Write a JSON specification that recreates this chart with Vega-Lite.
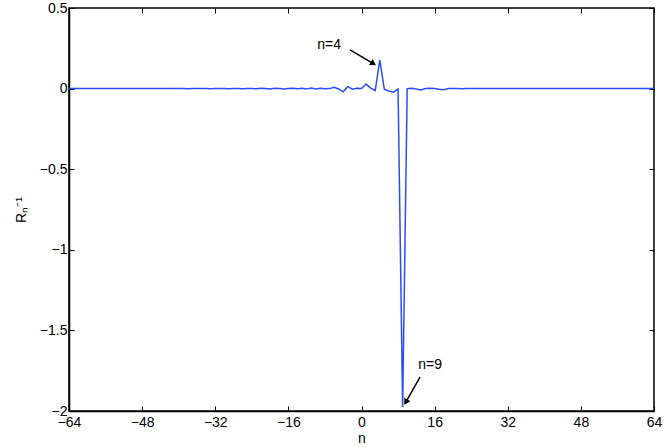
{
  "$schema": "https://vega.github.io/schema/vega-lite/v6.json",
  "width": 585,
  "height": 403,
  "autosize": "none",
  "padding": {"left": 69, "top": 8, "right": 10, "bottom": 36},
  "background": "white",
  "config": {
    "view": {"stroke": "black", "strokeWidth": 1.5},
    "axis": {
      "labelFont": "Liberation Sans",
      "titleFont": "Liberation Sans",
      "labelFontSize": 14,
      "titleFontSize": 14,
      "labelColor": "black",
      "titleColor": "black",
      "titleFontWeight": "normal",
      "domainColor": "black",
      "tickColor": "black",
      "grid": false,
      "tickSize": -5,
      "tickWidth": 1,
      "domainWidth": 1.5
    },
    "text": {"font": "Liberation Sans", "fontSize": 14}
  },
  "datasets": {
    "series": [
      {"n": -64, "v": 0}, {"n": -63, "v": 0}, {"n": -62, "v": 0}, {"n": -61, "v": 0},
      {"n": -60, "v": 0}, {"n": -59, "v": 0}, {"n": -58, "v": 0}, {"n": -57, "v": 0},
      {"n": -56, "v": 0}, {"n": -55, "v": 0}, {"n": -54, "v": 0}, {"n": -53, "v": 0},
      {"n": -52, "v": 0}, {"n": -51, "v": 0}, {"n": -50, "v": 0}, {"n": -49, "v": 0},
      {"n": -48, "v": 0}, {"n": -47, "v": 0}, {"n": -46, "v": 0}, {"n": -45, "v": 0},
      {"n": -44, "v": 0}, {"n": -43, "v": 0}, {"n": -42, "v": 0}, {"n": -41, "v": 0},
      {"n": -40, "v": 0.001}, {"n": -39, "v": 0}, {"n": -38, "v": -0.001}, {"n": -37, "v": 0},
      {"n": -36, "v": 0.001}, {"n": -35, "v": 0}, {"n": -34, "v": 0}, {"n": -33, "v": -0.001},
      {"n": -32, "v": 0}, {"n": -31, "v": 0.001}, {"n": -30, "v": 0}, {"n": -29, "v": -0.001},
      {"n": -28, "v": 0.001}, {"n": -27, "v": 0}, {"n": -26, "v": -0.001}, {"n": -25, "v": 0.001},
      {"n": -24, "v": 0}, {"n": -23, "v": -0.001}, {"n": -22, "v": 0.002}, {"n": -21, "v": 0},
      {"n": -20, "v": -0.002}, {"n": -19, "v": 0.002}, {"n": -18, "v": 0}, {"n": -17, "v": -0.002},
      {"n": -16, "v": 0.001}, {"n": -15, "v": 0.002}, {"n": -14, "v": -0.001}, {"n": -13, "v": 0.002},
      {"n": -12, "v": -0.002}, {"n": -11, "v": 0.003}, {"n": -10, "v": -0.002}, {"n": -9, "v": 0.002},
      {"n": -8, "v": -0.001}, {"n": -7, "v": 0.0}, {"n": -6, "v": 0.008}, {"n": -5, "v": -0.002},
      {"n": -4, "v": -0.02}, {"n": -3, "v": 0.012}, {"n": -2, "v": -0.004}, {"n": -1, "v": 0.002},
      {"n": 0, "v": 0.0}, {"n": 1, "v": 0.028}, {"n": 2, "v": 0.003}, {"n": 3, "v": -0.012},
      {"n": 4, "v": 0.178}, {"n": 5, "v": -0.004}, {"n": 6, "v": -0.015}, {"n": 7, "v": -0.022},
      {"n": 8, "v": -0.002}, {"n": 9, "v": -1.975}, {"n": 10, "v": 0.0}, {"n": 11, "v": 0.002},
      {"n": 12, "v": -0.002}, {"n": 13, "v": -0.008}, {"n": 14, "v": 0.0}, {"n": 15, "v": 0.002},
      {"n": 16, "v": 0.0}, {"n": 17, "v": -0.004}, {"n": 18, "v": -0.007}, {"n": 19, "v": 0.0},
      {"n": 20, "v": 0.001}, {"n": 21, "v": 0}, {"n": 22, "v": -0.001}, {"n": 23, "v": 0},
      {"n": 24, "v": 0.001}, {"n": 25, "v": 0}, {"n": 26, "v": 0}, {"n": 27, "v": 0},
      {"n": 28, "v": 0}, {"n": 29, "v": 0}, {"n": 30, "v": 0}, {"n": 31, "v": 0},
      {"n": 32, "v": 0}, {"n": 33, "v": 0}, {"n": 34, "v": 0}, {"n": 35, "v": 0},
      {"n": 36, "v": 0}, {"n": 37, "v": 0}, {"n": 38, "v": 0}, {"n": 39, "v": 0},
      {"n": 40, "v": 0}, {"n": 41, "v": 0}, {"n": 42, "v": 0}, {"n": 43, "v": 0},
      {"n": 44, "v": 0}, {"n": 45, "v": 0}, {"n": 46, "v": 0}, {"n": 47, "v": 0},
      {"n": 48, "v": 0}, {"n": 49, "v": 0}, {"n": 50, "v": 0}, {"n": 51, "v": 0},
      {"n": 52, "v": 0}, {"n": 53, "v": 0}, {"n": 54, "v": 0}, {"n": 55, "v": 0},
      {"n": 56, "v": 0}, {"n": 57, "v": 0}, {"n": 58, "v": 0}, {"n": 59, "v": 0},
      {"n": 60, "v": 0}, {"n": 61, "v": 0}, {"n": 62, "v": 0}, {"n": 63, "v": 0},
      {"n": 64, "v": 0}
    ],
    "arrows": [
      {"n": -2.5, "v": 0.24, "n2": 2.6, "v2": 0.155, "angle": 122.6},
      {"n": 12.8, "v": -1.79, "n2": 9.7, "v2": -1.945, "angle": 209.7}
    ],
    "labels": [
      {"n": -7.1, "v": 0.27, "label": "n=4"},
      {"n": 15.0, "v": -1.715, "label": "n=9"}
    ]
  },
  "layer": [
    {
      "data": {"name": "series"},
      "mark": {"type": "line", "color": "#2b4bff", "strokeWidth": 1.5, "clip": true},
      "encoding": {
        "x": {
          "field": "n", "type": "quantitative",
          "scale": {"domain": [-64, 64], "nice": false, "zero": false},
          "axis": {"values": [-64, -48, -32, -16, 0, 16, 32, 48, 64], "title": "n", "labelPadding": 9, "titlePadding": 2, "format": "d", "labelFlush": false, "labelOverlap": false}
        },
        "y": {
          "field": "v", "type": "quantitative",
          "scale": {"domain": [-2, 0.5], "nice": false, "zero": false},
          "axis": {"values": [-2, -1.5, -1, -0.5, 0, 0.5], "title": "Rₙ⁻¹", "labelPadding": 7, "titlePadding": 11, "format": "~g", "labelFlush": false, "labelOverlap": false}
        }
      }
    },
    {
      "data": {"name": "series"},
      "mark": {"type": "point", "opacity": 0},
      "encoding": {
        "x": {"field": "n", "type": "quantitative", "axis": {"orient": "top", "values": [-64, -48, -32, -16, 0, 16, 32, 48, 64], "labels": false, "title": null, "domain": false}},
        "y": {"field": "v", "type": "quantitative", "axis": {"orient": "right", "values": [-2, -1.5, -1, -0.5, 0, 0.5], "labels": false, "title": null, "domain": false}}
      }
    },
    {
      "data": {"name": "arrows"},
      "mark": {"type": "rule", "color": "black", "strokeWidth": 1.5},
      "encoding": {
        "x": {"field": "n", "type": "quantitative", "axis": null},
        "y": {"field": "v", "type": "quantitative", "axis": null},
        "x2": {"field": "n2"},
        "y2": {"field": "v2"}
      }
    },
    {
      "data": {"name": "arrows"},
      "mark": {"type": "point", "shape": "triangle-up", "filled": true, "color": "black", "size": 50, "opacity": 1},
      "encoding": {
        "x": {"field": "n2", "type": "quantitative", "axis": null},
        "y": {"field": "v2", "type": "quantitative", "axis": null},
        "angle": {"field": "angle", "type": "quantitative", "scale": null}
      }
    },
    {
      "data": {"name": "labels"},
      "mark": {"type": "text", "color": "black", "fontSize": 14, "baseline": "middle", "align": "center"},
      "encoding": {
        "x": {"field": "n", "type": "quantitative", "axis": null},
        "y": {"field": "v", "type": "quantitative", "axis": null},
        "text": {"field": "label", "type": "nominal"}
      }
    }
  ],
  "resolve": {"axis": {"x": "independent", "y": "independent"}}
}
